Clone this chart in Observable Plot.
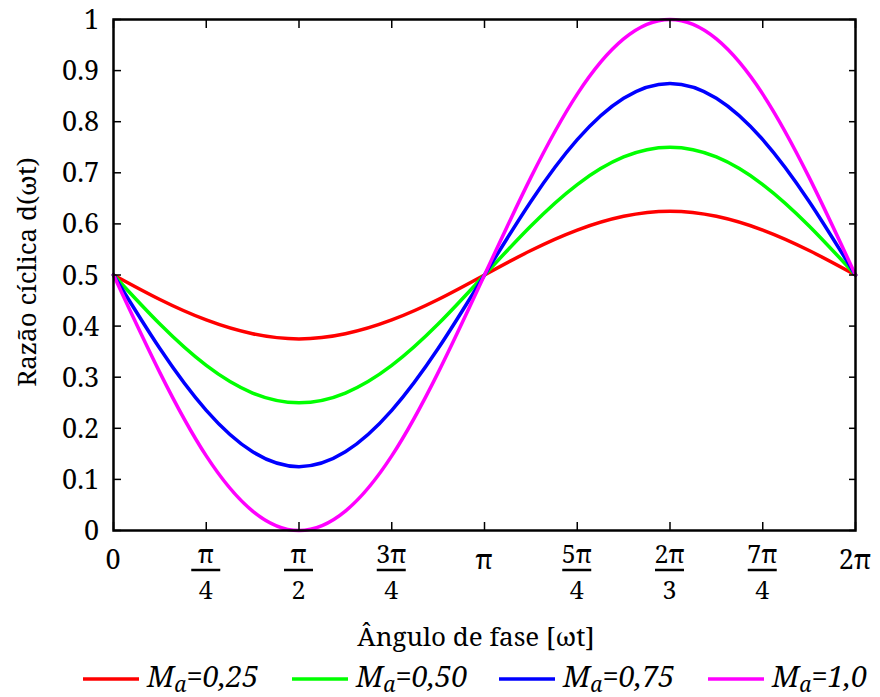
<!DOCTYPE html>
<html>
<head>
<meta charset="utf-8">
<script src="https://cdn.jsdelivr.net/npm/d3@7"></script>
<script src="https://cdn.jsdelivr.net/npm/@observablehq/plot@0.6"></script>
<style>
  html, body { margin: 0; padding: 0; background: #fff; }
</style>
</head>
<body>
<div id="chart"></div>
<script>
// Phase samples in eighths of pi (x = k·π/8)
const phaseEighths = [0,1,2,3,4,5,6,7,8,9,10,11,12,13,14,15,16];

// Duty-cycle values, one per sample
const d025 = [0.5,0.452,0.412,0.385,0.375,0.385,0.412,0.452,0.5,0.548,0.588,0.615,0.625,0.615,0.588,0.548,0.5];
const d050 = [0.5,0.404,0.323,0.269,0.25,0.269,0.323,0.404,0.5,0.596,0.677,0.731,0.75,0.731,0.677,0.596,0.5];
const d075 = [0.5,0.356,0.235,0.154,0.125,0.154,0.235,0.356,0.5,0.644,0.765,0.846,0.875,0.846,0.765,0.644,0.5];
const d100 = [0.5,0.309,0.146,0.038,0,0.038,0.146,0.309,0.5,0.691,0.854,0.962,1,0.962,0.854,0.691,0.5];

const seriesNames = ["0,25", "0,50", "0,75", "1,0"];
const seriesColors = ["#ff0000", "#00ff00", "#0000ff", "#ff00ff"];
const seriesValues = [d025, d050, d075, d100];

// X ticks (in quarters of pi) and their fraction labels
const xTickQuarters = [0,1,2,3,4,5,6,7,8];
const xTickNum = ["0","π","π","3π","π","5π","2π","7π","2π"];
const xTickDen = [null,"4","2","4",null,"4","3","4",null];

// Y ticks
const yTicks = [0,0.1,0.2,0.3,0.4,0.5,0.6,0.7,0.8,0.9,1];
const yTickLabels = ["0","0.1","0.2","0.3","0.4","0.5","0.6","0.7","0.8","0.9","1"];

const xLabel = "Ângulo de fase [ωt]";
const yLabel = "Razão cíclica d(ωt)";

const rows = [];
seriesValues.forEach((vals, s) => {
  vals.forEach((v, i) => rows.push({series: seriesNames[s], x: phaseEighths[i] * Math.PI / 8, y: v}));
});
const xTicks = xTickQuarters.map(q => q * Math.PI / 4);

const FAM = "Noto Serif, DejaVu Serif";

function txt(g, x, y, s, anchor, size) {
  return g.append("text").attr("x", x).attr("y", y).attr("text-anchor", anchor)
    .attr("font-family", FAM).attr("font-size", size).attr("fill", "black").text(s);
}

function customText(index, scales) {
  const g = d3.create("svg:g");
  yTicks.forEach((v, i) => {
    txt(g, 99, scales.y(v) + 10, yTickLabels[i], "end", 27);
  });
  xTicks.forEach((v, i) => {
    const x = scales.x(v);
    if (xTickDen[i] == null) {
      txt(g, x, 569, xTickNum[i], "middle", 27);
    } else {
      const t = txt(g, x, 563, xTickNum[i], "middle", 25);
      const w = t.node().getComputedTextLength();
      const bw = Math.max(w + 4, 29);
      g.append("line").attr("x1", x - bw / 2).attr("x2", x + bw / 2).attr("y1", 570).attr("y2", 570)
        .attr("stroke", "black").attr("stroke-width", 2.5);
      txt(g, x, 599, xTickDen[i], "middle", 25);
    }
  });
  txt(g, 476, 646, xLabel, "middle", 26);
  txt(g, 0, 0, yLabel, "middle", 26).attr("transform", "translate(36,272) rotate(-90)");
  return g.node();
}

function legend() {
  const g = d3.create("svg:g");
  const sw = [83, 292, 499, 708];
  seriesNames.forEach((name, i) => {
    g.append("line").attr("x1", sw[i]).attr("x2", sw[i] + 56).attr("y1", 679).attr("y2", 679)
      .attr("stroke", seriesColors[i]).attr("stroke-width", 3.5);
    const t = txt(g, sw[i] + 64, 687, null, "start", 29).attr("font-style", "italic");
    t.append("tspan").text("M");
    t.append("tspan").attr("font-size", 21).attr("dy", 5).text("a");
    t.append("tspan").attr("dy", -5).text("=" + name);
  });
  return g.node();
}

const chart = Plot.plot({
  width: 880,
  height: 697,
  marginLeft: 113,
  marginRight: 25,
  marginTop: 19,
  marginBottom: 167,
  style: {color: "black", background: "white", overflow: "visible"},
  x: {domain: [0, 2 * Math.PI], axis: null},
  y: {domain: [0, 1], axis: null},
  color: {domain: seriesNames, range: seriesColors},
  marks: [
    Plot.line(rows, {x: "x", y: "y", stroke: "series", z: "series", strokeWidth: 3.5, curve: "natural"}),
    Plot.axisY(yTicks, {anchor: "left", tickSize: -8, strokeWidth: 1.5, tickFormat: () => "", label: null}),
    Plot.axisY(yTicks, {anchor: "right", tickSize: -7, strokeWidth: 1.5, tickFormat: () => "", label: null}),
    Plot.axisX(xTicks, {anchor: "bottom", tickSize: -8, strokeWidth: 1.5, tickFormat: () => "", label: null}),
    Plot.axisX(xTicks, {anchor: "top", tickSize: -8, strokeWidth: 1.5, tickFormat: () => "", label: null}),
    Plot.frame({stroke: "black", strokeWidth: 2.5}),
    customText,
    legend
  ]
});
document.getElementById("chart").appendChild(chart);
</script>
</body>
</html>
